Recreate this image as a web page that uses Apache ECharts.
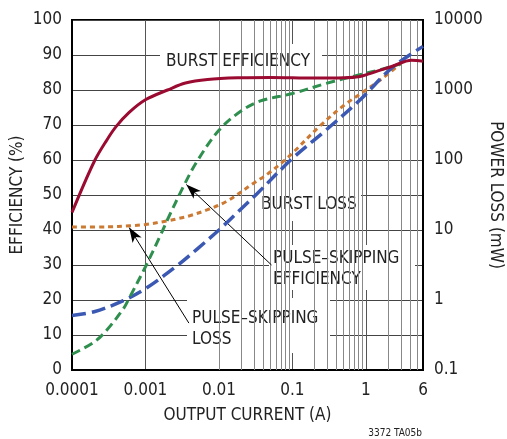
<!DOCTYPE html>
<html>
<head>
<meta charset="utf-8">
<script src="https://cdn.jsdelivr.net/npm/echarts@6.0.0/dist/echarts.min.js"></script>
<style>
  html, body { margin: 0; padding: 0; background: #fff; }
  #chart { width: 507px; height: 439px; }
</style>
</head>
<body>
<div id="chart"></div>
<script>
// burst mode efficiency (%)
var burstEffI = [0.0001, 0.0002, 0.0003, 0.0004, 0.0006, 0.001, 0.002, 0.0035, 0.007, 0.02, 0.05, 0.2, 0.5, 0.8, 1.1, 2.3, 4.2, 6];
var burstEff  = [45, 59.5, 65.8, 69.6, 73.6, 77.2, 80, 82, 83, 83.5, 83.6, 83.4, 83.5, 83.8, 84.6, 86.8, 88.5, 88.2];

// pulse-skipping efficiency (%)
var psEffI = [0.0001, 0.0002, 0.0003, 0.0005, 0.0006, 0.001, 0.0016, 0.002, 0.0033, 0.005, 0.01, 0.02, 0.036, 0.1, 0.29, 0.8, 1.7, 3];
var psEff  = [4.5, 8, 11.5, 17.5, 20.5, 29.5, 38.5, 43, 52.5, 59.5, 68.5, 74, 76.8, 79, 81.9, 84.3, 86, 87.5];

// burst mode power loss (mW)
var burstLossI = [0.0001, 0.0002, 0.0005, 0.001, 0.0026, 0.005, 0.01, 0.02, 0.033, 0.1, 0.29, 0.83, 2.3, 6];
var burstLoss  = [0.6, 0.68, 0.98, 1.45, 3.0, 5.3, 10, 20, 33, 105, 270, 720, 2100, 4200];

// pulse-skipping power loss (mW)
var psLossI = [0.0001, 0.0003, 0.0006, 0.001, 0.002, 0.0029, 0.004, 0.007, 0.013, 0.03, 0.045, 0.075, 0.1, 0.24, 0.5, 1, 1.7, 3];
var psLoss  = [11, 11.1, 11.5, 12, 13.5, 14.7, 16, 19.5, 26, 47, 62, 95, 125, 310, 600, 1000, 1480, 2400];

var FONT = '"Liberation Sans Narrow", "DejaVu Sans Condensed", sans-serif';
var TXT = '#222';
var FS = 17;

function pairs(xs, ys) {
  return xs.map(function (x, i) { return [x, ys[i]]; });
}
function fmt(v) { return String(+v.toPrecision(3)); }

// minor vertical grid lines 2..9 in every decade
var minorX = [];
for (var d = -4; d <= 0; d++) {
  for (var k = 2; k <= 9; k++) {
    var v = +(k * Math.pow(10, d)).toPrecision(3);
    if (v < 6) minorX.push({ xAxis: v });
  }
}

var chart = echarts.init(document.getElementById('chart'));

var option = {
  animation: false,
  grid: {
    left: 72, right: 84, top: 20, bottom: 69,
    outerBoundsMode: 'none', containLabel: false,
    show: true, borderColor: '#000', borderWidth: 2
  },
  xAxis: {
    type: 'log', logBase: 10, min: 0.0001, max: 6, interval: 1,
    name: 'OUTPUT CURRENT (A)', nameLocation: 'middle', nameGap: 37, nameMoveOverlap: false,
    nameTextStyle: { fontFamily: FONT, fontSize: FS, color: TXT },
    axisLine: { lineStyle: { color: '#000', width: 2 } },
    axisTick: { show: false },
    axisLabel: { fontFamily: FONT, fontSize: FS, color: TXT, margin: 12, formatter: fmt },
    splitLine: { show: true, lineStyle: { color: '#555', width: 1 } },
    minorTick: { show: false }
  },
  yAxis: [{
    type: 'value', min: 0, max: 100, interval: 10,
    name: 'EFFICIENCY (%)', nameLocation: 'middle', nameGap: 46, nameMoveOverlap: false,
    nameTextStyle: { fontFamily: FONT, fontSize: FS, color: TXT },
    axisLine: { show: true, lineStyle: { color: '#000', width: 2 } },
    axisTick: { show: false },
    axisLabel: { fontFamily: FONT, fontSize: FS, color: TXT, margin: 10 },
    splitLine: { show: true, lineStyle: { color: '#444', width: 1 } }
  }, {
    type: 'log', logBase: 10, min: 0.1, max: 10000, interval: 1,
    position: 'right',
    name: 'POWER LOSS (mW)', nameLocation: 'middle', nameGap: 64, nameRotate: -90, nameMoveOverlap: false,
    nameTextStyle: { fontFamily: FONT, fontSize: FS, color: TXT },
    axisLine: { show: true, lineStyle: { color: '#000', width: 2 } },
    axisTick: { show: false },
    axisLabel: { fontFamily: FONT, fontSize: FS, color: TXT, margin: 11, formatter: fmt },
    splitLine: { show: false }
  }],
  graphic: [
    { type: 'rect', z: 3, shape: { x: 160, y: 44, width: 162, height: 34 }, style: { fill: '#fff' } },
    { type: 'text', z: 4, x: 166, y: 62, style: { text: 'BURST EFFICIENCY', font: FS + 'px ' + FONT, fill: TXT, textVerticalAlign: 'middle' } },
    { type: 'rect', z: 3, shape: { x: 256, y: 190, width: 105, height: 31 }, style: { fill: '#fff' } },
    { type: 'text', z: 4, x: 261, y: 205, style: { text: 'BURST LOSS', font: FS + 'px ' + FONT, fill: TXT, textVerticalAlign: 'middle' } },
    { type: 'rect', z: 3, shape: { x: 269, y: 245, width: 146, height: 45 }, style: { fill: '#fff' } },
    { type: 'text', z: 4, x: 273, y: 248, style: { text: 'PULSE\u2013SKIPPING\nEFFICIENCY', font: FS + 'px ' + FONT, lineHeight: 21, fill: TXT, textVerticalAlign: 'top' } },
    { type: 'rect', z: 3, shape: { x: 187, y: 298, width: 143, height: 55 }, style: { fill: '#fff' } },
    { type: 'text', z: 4, x: 192, y: 308, style: { text: 'PULSE\u2013SKIPPING\nLOSS', font: FS + 'px ' + FONT, lineHeight: 21, fill: TXT, textVerticalAlign: 'top' } },
    { type: 'text', z: 4, x: 422, y: 433, style: { text: '3372 TA05b', font: '10px ' + FONT, fill: TXT, textAlign: 'right', textVerticalAlign: 'middle' } }
  ],
  series: [{
    // minor grid
    type: 'line', z: 1, silent: true, symbol: 'none',
    data: [[0.0001, 0]], lineStyle: { opacity: 0 },
    markLine: {
      silent: true, symbol: 'none', animation: false,
      label: { show: false },
      lineStyle: { color: '#888', width: 1, type: 'solid' },
      data: minorX
    }
  }, {
    name: 'Pulse-skipping loss', type: 'line', yAxisIndex: 1, z: 5,
    data: pairs(psLossI, psLoss), smooth: 0.35, symbol: 'none',
    lineStyle: { color: '#cc7a33', width: 3, type: [5, 4] }
  }, {
    name: 'Burst loss', type: 'line', yAxisIndex: 1, z: 5,
    data: pairs(burstLossI, burstLoss), smooth: 0.35, symbol: 'none',
    lineStyle: { color: '#3b58b3', width: 3.5, type: [14, 6] }
  }, {
    name: 'Pulse-skipping efficiency', type: 'line', z: 6,
    data: pairs(psEffI, psEff), smooth: 0.35, symbol: 'none',
    lineStyle: { color: '#2f8f4e', width: 3, type: [9, 5] },
    markLine: {
      silent: true, animation: false,
      symbol: ['none', 'arrow'], symbolSize: [8, 15],
      label: { show: false },
      lineStyle: { color: '#000', width: 1, type: 'solid' },
      data: [
        [{ coord: [0.052, 30] }, { coord: [0.0036, 53] }],
        [{ coord: [0.0039, 13.4] }, { coord: [0.0006, 40.7] }]
      ]
    }
  }, {
    name: 'Burst efficiency', type: 'line', z: 7,
    data: pairs(burstEffI, burstEff), smooth: 0.35, symbol: 'none',
    lineStyle: { color: '#9b0a30', width: 3 }
  }]
};

chart.setOption(option);
</script>
</body>
</html>
